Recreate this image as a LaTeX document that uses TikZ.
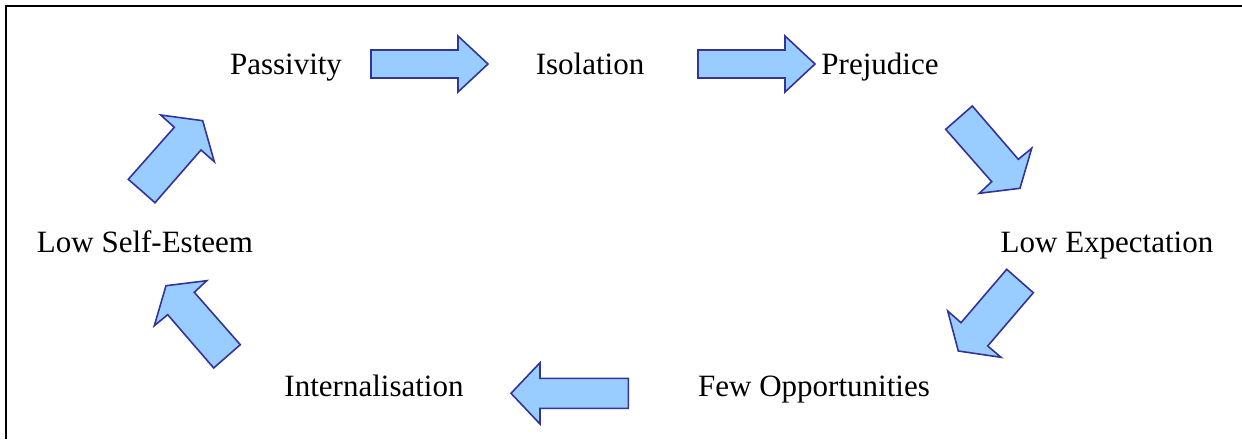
\documentclass[tikz,border=0pt]{standalone}
\usepackage{fontspec}
\setmainfont{Liberation Serif}
\definecolor{arrfill}{HTML}{99CCFF}
\definecolor{arrline}{HTML}{333399}
\tikzset{
  stage/.style   ={font=\fontsize{15.5}{18}\selectfont, inner sep=0pt, anchor=base},
  blockarr/.style={draw=arrline, fill=arrfill, line width=0.8pt, line join=miter},
  frame/.style   ={draw=black, line width=1pt},
}

\begin{document}
\begin{tikzpicture}[x=0.5pt, y=-0.5pt]
  \useasboundingbox (0,0) rectangle (1242,439);
  \draw[frame] (6,439) -- (6,6) -- (1242,6);
  % stages of the cycle
  \node[stage] (pass)  at (286,74)   {Passivity};
  \node[stage] (isol)  at (590,74)   {Isolation};
  \node[stage] (prej)  at (880,74)   {Prejudice};
  \node[stage] (lowex) at (1107,252) {Low Expectation};
  \node[stage] (fewop) at (814,396)  {Few Opportunities};
  \node[stage] (intern) at (374,396) {Internalisation};
  \node[stage] (selfe) at (145,252)  {Low Self-Esteem};
  % block arrows, clockwise
  \draw[blockarr] (371,50) -- (458,50) -- (458,36) -- (488,64) -- (458,92) -- (458,78) -- (371,78) -- cycle;
  \draw[blockarr] (698,50) -- (785,50) -- (785,36) -- (815,64) -- (785,92) -- (785,78) -- (698,78) -- cycle;
  \draw[blockarr] (945.7,129.3) -- (972.3,106) -- (1018.3,159.3) -- (1031.7,148.3) -- (1020,188.3) -- (979.3,193.3) -- (991.7,181.7) -- cycle;
  \draw[blockarr] (1006.7,269.3) -- (1033.3,292.7) -- (987.7,346) -- (1001,357.3) -- (958.3,351) -- (947.7,311) -- (961,322.7) -- cycle;
  \draw[blockarr] (628.3,378.3) -- (540,378.3) -- (540,362.7) -- (511,393.3) -- (540,424) -- (540,408.3) -- (628.3,408.3) -- cycle;
  \draw[blockarr] (240.3,344.7) -- (213.7,368) -- (167.7,314.7) -- (154.3,325.7) -- (166,285.7) -- (206.7,280.7) -- (194.3,292.3) -- cycle;
  \draw[blockarr] (128.3,179.3) -- (155,202.7) -- (201,150) -- (214.3,161.7) -- (202.7,120.7) -- (160.7,115) -- (174.3,127.3) -- cycle;
\end{tikzpicture}
\end{document}
